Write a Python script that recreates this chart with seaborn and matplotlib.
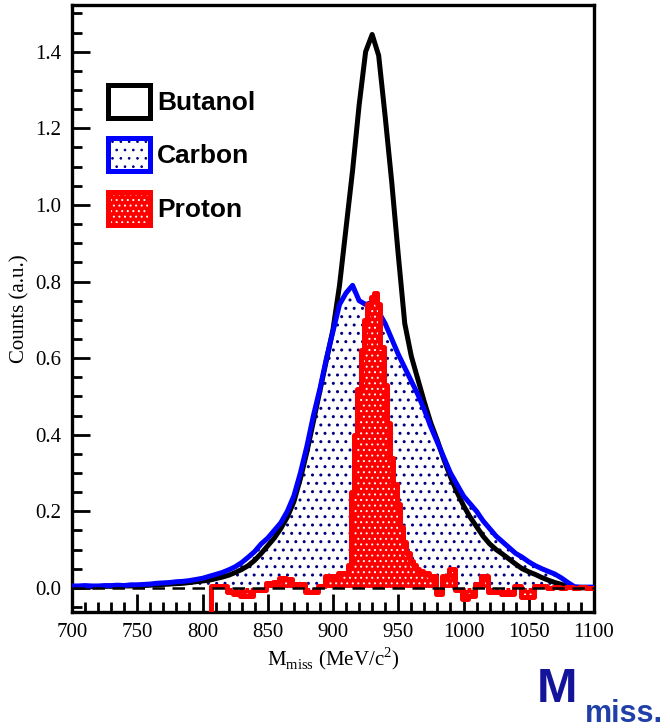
import numpy as np
import pandas as pd
import matplotlib.pyplot as plt
import seaborn as sns
from matplotlib.patches import Patch
from matplotlib.ticker import MultipleLocator, FormatStrFormatter

# bin centres (MeV/c^2)
mass = np.arange(700, 1101, 5)

butanol = [0.003, 0.003, 0.003, 0.003, 0.003, 0.004, 0.004, 0.004, 0.005, 0.005,
           0.006, 0.006, 0.007, 0.008, 0.009, 0.010, 0.011, 0.012, 0.014, 0.016,
           0.018, 0.020, 0.024, 0.028, 0.033, 0.040, 0.048, 0.058, 0.072, 0.090,
           0.110, 0.130, 0.155, 0.185, 0.225, 0.285, 0.355, 0.435, 0.515, 0.595,
           0.675, 0.790, 0.940, 1.090, 1.260, 1.400, 1.445, 1.390, 1.230, 1.060,
           0.870, 0.690, 0.605, 0.545, 0.485, 0.430, 0.385, 0.335, 0.290, 0.250,
           0.215, 0.185, 0.160, 0.135, 0.115, 0.100, 0.088, 0.075, 0.062, 0.050,
           0.042, 0.035, 0.027, 0.020, 0.014, 0.009, 0.004, 0.0, 0.0, 0.0,
           0.0]

carbon = [0.005, 0.005, 0.006, 0.005, 0.005, 0.006, 0.006, 0.007, 0.006, 0.008,
          0.008, 0.009, 0.010, 0.012, 0.013, 0.014, 0.016, 0.017, 0.019, 0.022,
          0.025, 0.030, 0.035, 0.040, 0.047, 0.055, 0.066, 0.080, 0.095, 0.115,
          0.130, 0.150, 0.170, 0.200, 0.240, 0.300, 0.370, 0.450, 0.520, 0.600,
          0.670, 0.740, 0.770, 0.790, 0.750, 0.740, 0.745, 0.720, 0.690, 0.650,
          0.610, 0.575, 0.540, 0.505, 0.465, 0.420, 0.380, 0.340, 0.300, 0.270,
          0.240, 0.220, 0.200, 0.175, 0.155, 0.135, 0.120, 0.105, 0.090, 0.080,
          0.068, 0.058, 0.050, 0.043, 0.036, 0.026, 0.014, 0.003, 0.002, 0.002,
          0.002]

# proton (butanol - carbon), finer 2.5 MeV bins from 805 to 1100
mass_p = np.arange(805, 1100.1, 2.5)
proton = [-0.080, 0.005,
          0.005, 0.005, 0.005, 0.005,
          -0.012, -0.012, -0.015, -0.015, -0.020, -0.020, -0.020, -0.020,
          -0.005, -0.005, -0.005, -0.005, 0.012, 0.012, 0.015, 0.015,
          0.025, 0.025, 0.022, 0.022, 0.010, 0.010, 0.010, 0.010,
          -0.010, -0.010, -0.010, -0.010, 0.005, 0.005, 0.030, 0.030,
          0.030, 0.030, 0.040, 0.040, 0.040, 0.060, 0.250, 0.400,
          0.520, 0.620, 0.700, 0.740, 0.760, 0.770, 0.740, 0.630,
          0.530, 0.430, 0.340, 0.270, 0.220, 0.160, 0.120, 0.090,
          0.070, 0.060, 0.050, 0.045, 0.040, 0.040, 0.030, 0.030,
          -0.015, -0.015, 0.030, 0.030, 0.050, 0.050, -0.005, -0.005,
          -0.030, -0.030, -0.020, -0.020, 0.010, 0.010, 0.030, 0.030,
          -0.010, -0.010, -0.010, -0.010, -0.015, -0.015, -0.015, -0.015,
          0.005, 0.005, -0.025, -0.025, -0.025, -0.025, 0.005, 0.005,
          0.005, 0.005, 0.0, 0.0, 0.002, 0.002, 0.0, 0.0,
          0.003, 0.003, 0.0, 0.0, 0.003, 0.003, 0.0, 0.0,
          0.0]

df = pd.DataFrame({"mass": mass, "Butanol": butanol, "Carbon": carbon})
pro = pd.DataFrame({"mass": mass_p, "Proton": proton})

sns.set_style("white")
plt.rcParams['font.family'] = ['Liberation Serif', 'DejaVu Serif']
plt.rcParams['mathtext.fontset'] = 'custom'
plt.rcParams['mathtext.rm'] = 'Liberation Serif'
plt.rcParams['text.color'] = 'black'
plt.rcParams['axes.labelcolor'] = 'black'
plt.rcParams['xtick.color'] = 'black'
plt.rcParams['ytick.color'] = 'black'

fig = plt.figure(figsize=(6.7, 7.28), dpi=100)
ax = fig.add_axes([72/670, 116/728, 522/670, 607/728])

# carbon: white with navy dots, blue outline
plt.rcParams['hatch.linewidth'] = 1.0
ax.fill_between(df["mass"], df["Carbon"], 0, facecolor="white", edgecolor="#000080",
                hatch="..", linewidth=0, zorder=1)
h_car_fill = Patch(facecolor="white", edgecolor="#000080", hatch="..", linewidth=0)

# butanol outline
sns.lineplot(data=df, x="mass", y="Butanol", color="black", linewidth=3.6, ax=ax, zorder=2)
sns.lineplot(data=df, x="mass", y="Carbon", color="blue", linewidth=3.6, ax=ax, zorder=3)

# proton: red with white dots, stepped
plt.rcParams['hatch.linewidth'] = 0.7
ax.fill_between(pro["mass"], pro["Proton"], 0, step="mid", facecolor="red", edgecolor="white",
                hatch="...", linewidth=0, zorder=4)
h_pro_fill = Patch(facecolor="red", edgecolor="white", hatch="...", linewidth=0)
sns.lineplot(data=pro, x="mass", y="Proton", color="red", linewidth=3.6,
             drawstyle="steps-mid", ax=ax, zorder=5)

ax.axhline(0, color="black", linestyle=(0, (5, 3)), linewidth=1.8, zorder=6)

ax.set_xlim(700, 1100)
ax.set_ylim(-0.063, 1.522)
ax.xaxis.set_major_locator(MultipleLocator(50))
ax.xaxis.set_minor_locator(MultipleLocator(10))
ax.yaxis.set_major_locator(MultipleLocator(0.2))
ax.yaxis.set_minor_locator(MultipleLocator(0.05))
ax.yaxis.set_major_formatter(FormatStrFormatter('%.1f'))
ax.set_yticks([0.0, 0.2, 0.4, 0.6, 0.8, 1.0, 1.2, 1.4])
ax.tick_params(axis="both", which="major", direction="in", length=13, width=2,
               labelsize=15, pad=8, bottom=True, left=True, top=False, right=False)
ax.tick_params(axis="both", which="minor", direction="in", length=7, width=2,
               bottom=True, left=True, top=False, right=False)
for s in ax.spines.values():
    s.set_linewidth(2.4)
    s.set_color("black")

ax.set_xlabel(r"M$_{\rm miss}$ (MeV/c$^{2}$)", fontsize=15, labelpad=2)
ax.set_ylabel("Counts (a.u.)", fontsize=15, labelpad=4)

h_but = Patch(facecolor="white", edgecolor="black", linewidth=3.6)
h_car = (h_car_fill, Patch(facecolor="none", edgecolor="blue", linewidth=3.6))
h_pro = (h_pro_fill, Patch(facecolor="none", edgecolor="red", linewidth=3.6))
leg = ax.legend([h_but, h_car, h_pro], ["Butanol", "Carbon", "Proton"],
                loc="upper left", bbox_to_anchor=(0.069, 0.869), frameon=False,
                borderaxespad=0, borderpad=0, handlelength=1.6, handleheight=1.55,
                handletextpad=0.25, labelspacing=0.78,
                prop={"family": "Liberation Sans", "weight": "bold", "size": 19})
for t in leg.get_texts():
    t.set_color("black")

fig.text(537/670, 1 - 702/728, "M", fontsize=35, fontweight="bold", color="#14149a",
         family="Liberation Sans", va="baseline")
fig.text(585/670, 1 - 722/728, "miss.", fontsize=22, fontweight="bold", color="#2040a8",
         family="Liberation Sans", va="baseline")

fig.savefig("out.png", dpi=100)
